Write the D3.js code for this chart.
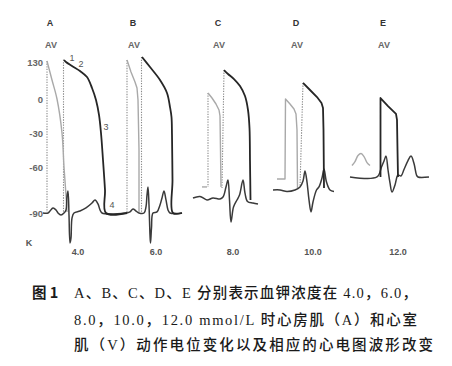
<!DOCTYPE html>
<html><head><meta charset="utf-8">
<script src="https://cdn.jsdelivr.net/npm/d3@7/dist/d3.min.js"></script>
<style>
html,body{margin:0;padding:0;background:#fff;}
svg{display:block;}
</style></head>
<body><svg id="c" width="452" height="366"></svg>
<script>
// ---------- data ----------
const panelLabels = ["A","B","C","D","E"];
const panelTimes  = [60, 226, 396, 552, 726];          // label centres (time units)
const kLabels     = ["4.0","6.0","8.0","10.0","12.0"];
const kTimes      = [116, 272, 426, 586, 756];
const tickValues  = [30, 0, -30, -60, -90];
const tickLabels  = ["130","0","-30","-60","-90"];
const phaseLabels = ["1","2","3","4"];
const phasePoints = [[104,33],[122,28],[172,-25],[184,-85]];

// atrial action potentials (time, mV)
const atrialA = [[54,30.8],[64,15.4],[74,0],[84,-30],[88,-60],[92,-78.3],[94,-89.3]];
const atrialB = [[214,31.6],[222,21.9],[230,13.8],[234,8.9],[236,-0.9],[238,-45],[238,-89.3]];
const atrialC = [[376,4.9],[384,0.8],[392,-4.4],[398,-9.7],[400,-15],[401,-45],[402,-73]];
const atrialCStub = [[364,-73],[374,-73]];
const atrialD = [[514,-67.8],[530,-67.8],[531,0],[540,-4.4],[548,-8.8],[552,-13.2],[554,-27.4],[555,-73.7]];
const atrialE = [[664,-58.7],[670,-55.2],[676,-49.9],[682,-48.1],[688,-50.8],[694,-56.1],[700,-58.7]];

// ventricular action potentials
const ventA = [[88,31.6],[92,30],[104,26.8],[120,22.7],[134,17.8],[144,8.9],[152,-0.9],[158,-14.1],[162,-30],[166,-53.8],[170,-75],[172,-90],[214,-90]];
const ventB = [[244,34.1],[260,25.9],[280,15.4],[294,4.9],[300,-7.1],[303,-15.9],[304,-31.8],[305,-68.5],[306,-90],[324,-90]];
const ventC = [[408,23.5],[416,20.3],[428,16.2],[440,10.5],[450,2.4],[456,-9.7],[459,-25.6],[460,-54.7],[461,-81.5]];
const ventD = [[566,13],[580,7.3],[594,1.6],[603,-3.5],[606,-7.9],[607,-27.4],[608,-73.7]];
const ventE = [[721,-66.5],[721,0.8],[736,-6.2],[752,-13.2],[754,-18.5],[755,-45],[756,-66.5]];

// upstroke markers (dotted)
const dotted = [
  [[54,30.8],[54,-89.3]], [[87,32],[87,-89.3]],
  [[214,31.6],[214,-89.3]], [[243,34],[243,-89.3]],
  [[376,4.9],[376,-73]], [[408,23.5],[404,-73.7]],
  [[566,13],[560,-73]]
];

// ECG traces
const ecgA = [[46,-90],[56,-90],[60,-88.7],[66,-86.7],[72,-88],[76,-90],[82,-91.3],[88,-90],[92,-88],[94,-78.9],[96,-75.7],[98,-91.3],[100,-109.6],[102,-106.3],[104,-93.3],[108,-90],[120,-88.7],[132,-86.7],[144,-83.5],[150,-81.5],[156,-84.1],[160,-88],[164,-90],[214,-90]];
const ecgB = [[214,-90],[220,-89.3],[226,-87.4],[232,-88.7],[238,-90],[248,-90],[252,-86],[254,-78.3],[256,-73],[258,-84.8],[260,-104.3],[261,-109.6],[263,-99.8],[266,-90],[274,-89.3],[280,-84.8],[284,-80.2],[288,-75.7],[292,-81.5],[296,-88],[300,-90],[324,-90]];
const ecgC = [[346,-80.2],[360,-79.2],[374,-81.5],[386,-80.2],[400,-80.9],[406,-79.6],[412,-73],[416,-68.5],[419,-81.5],[422,-95.9],[427,-86.1],[434,-81.5],[439,-78.3],[446,-68.5],[450,-77],[455,-82.5],[466,-83.5],[476,-84.1]];
const ecgD = [[506,-75],[520,-75],[534,-76],[550,-75],[560,-73],[566,-69.1],[570,-62.6],[574,-69.8],[578,-81.5],[582,-89.3],[586,-82.8],[593,-75],[598,-73],[604,-67.2],[608,-61.3],[613,-69.8],[620,-75],[628,-76]];
const ecgE = [[660,-66.5],[714,-66.5],[723,-60],[728,-54.7],[732,-50.4],[736,-61.8],[740,-70.4],[744,-76.3],[750,-71.7],[756,-65.2],[762,-65.9],[768,-61.6],[776,-54.3],[782,-50.4],[788,-56.9],[793,-65.2],[796,-66.5],[818,-66.5]];

const captionLabel = "图 1";
const captionLines = [
  "A、B、C、D、E 分别表示血钾浓度在 4.0，6.0，",
  "8.0，10.0，12.0 mmol/L 时心房肌（A）和心室",
  "肌（V）动作电位变化以及相应的心电图波形改变"
];

// ---------- drawing ----------
const svg = d3.select("#c");
const x = d3.scaleLinear().domain([0, 840]).range([20, 440]);
const y = d3.scaleLinear().domain([-90,-60,-30,0,30]).range([213,167,133,99,62]);

const smooth = d3.line().x(d=>x(d[0])).y(d=>y(d[1])).curve(d3.curveCatmullRom.alpha(0.5));
const straight = d3.line().x(d=>x(d[0])).y(d=>y(d[1]));

// y axis
const ax = svg.append("g").attr("transform","translate(43,0)")
  .call(d3.axisLeft(y).tickValues(tickValues).tickSize(0).tickPadding(0)
        .tickFormat((d,i)=>tickLabels[i]));
ax.select(".domain").remove();
ax.selectAll("text").attr("font-family","Liberation Sans Narrow, Liberation Sans, Arial, sans-serif")
  .attr("font-size",9.5).attr("font-weight","bold").attr("fill","#666");

// dotted upstrokes
svg.append("g").selectAll("path").data(dotted).join("path")
  .attr("d", straight).attr("fill","none").attr("stroke","#8a8a8a")
  .attr("stroke-width",1.1).attr("stroke-dasharray","1.3,1.3");

// atrial APs (grey)
const grey = svg.append("g").attr("fill","none").attr("stroke","#a9a9a9").attr("stroke-width",1.4).attr("stroke-linejoin","round");
grey.append("path").attr("d", smooth(atrialA));
grey.append("path").attr("d", straight(atrialB));
grey.append("path").attr("d", straight(atrialC));
grey.append("path").attr("d", straight(atrialCStub));
grey.append("path").attr("d", straight(atrialD));
grey.append("path").attr("d", smooth(atrialE));

// ECG traces
const ecg = svg.append("g").attr("fill","none").attr("stroke","#3a3a3a").attr("stroke-width",1.5).attr("stroke-linejoin","round");
[ecgA, ecgB, ecgC, ecgD, ecgE].forEach(s => ecg.append("path").attr("d", smooth(s)));

// ventricular APs (dark)
const dark = svg.append("g").attr("fill","none").attr("stroke","#262626").attr("stroke-width",1.8).attr("stroke-linejoin","round");
dark.append("path").attr("d", smooth(ventA));
dark.append("path").attr("d", smooth(ventB));
dark.append("path").attr("d", smooth(ventC));
dark.append("path").attr("d", straight(ventD));
dark.append("path").attr("d", straight(ventE));

// labels
const lab = svg.append("g").attr("font-family","Liberation Sans Narrow, Liberation Sans, Arial, sans-serif")
  .attr("font-weight","bold").attr("text-anchor","middle");
lab.selectAll("text.p").data(panelLabels).join("text").attr("class","p")
  .attr("x",(d,i)=>x(panelTimes[i])).attr("y",26).attr("font-size",9).attr("fill","#333").text(d=>d);
lab.selectAll("text.av").data(panelLabels).join("text").attr("class","av")
  .attr("x",(d,i)=>x(panelTimes[i])+1).attr("y",48).attr("font-size",9).attr("fill","#666").text("AV");
lab.selectAll("text.k").data(kLabels).join("text").attr("class","k")
  .attr("x",(d,i)=>x(kTimes[i])).attr("y",255).attr("font-size",9).attr("fill","#555").text(d=>d);
lab.append("text").attr("x",29).attr("y",246).attr("font-size",9).attr("fill","#555").text("K");
lab.selectAll("text.ph").data(phaseLabels).join("text").attr("class","ph")
  .attr("x",(d,i)=>x(phasePoints[i][0])).attr("y",(d,i)=>y(phasePoints[i][1])+3)
  .attr("font-size",9).attr("fill","#555").attr("font-weight","normal").text(d=>d);

// caption
const cap = svg.append("g").attr("font-family","Liberation Serif, Noto Sans CJK SC, serif")
  .attr("font-size",14.5).attr("fill","#1a1a1a");
cap.append("text").attr("x",32).attr("y",298).attr("font-weight","bold")
  .attr("font-family","Noto Sans CJK SC, Liberation Serif, serif").text(captionLabel);
const ends = [417, 417, 433];
const bases = [298, 324.5, 350];
cap.selectAll("text.cl").data(captionLines).join("text").attr("class","cl")
  .attr("x",74).attr("y",(d,i)=>bases[i])
  .attr("textLength",(d,i)=>ends[i]-74).attr("lengthAdjust","spacing")
  .attr("font-weight",500).text(d=>d);
</script></body></html>
